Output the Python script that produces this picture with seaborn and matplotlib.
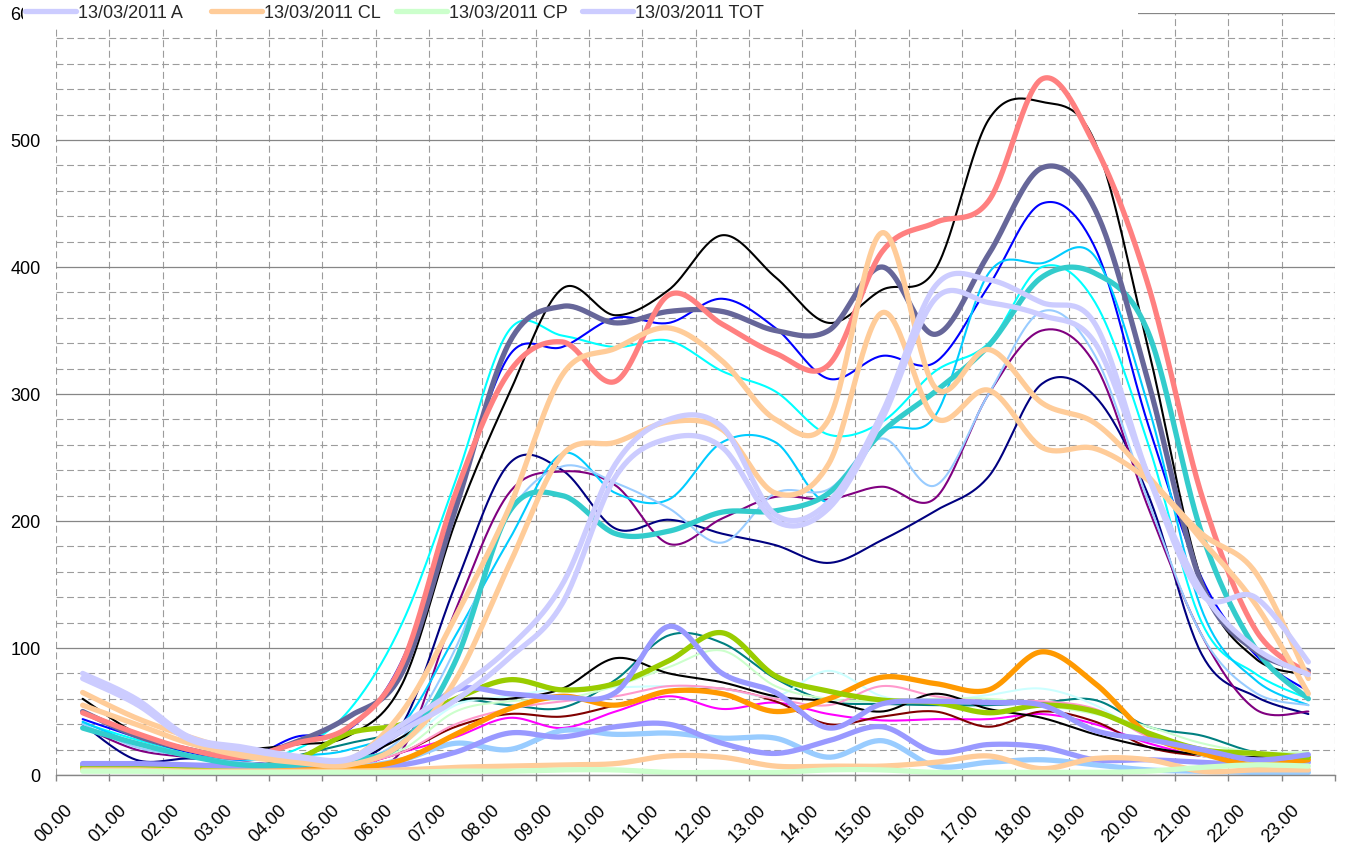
import numpy as np
import matplotlib
matplotlib.use("Agg")
import matplotlib.pyplot as plt
import seaborn as sns
from matplotlib.transforms import ScaledTranslation
from matplotlib.lines import Line2D
from matplotlib.patches import Rectangle

# ---- categories (hour of day) ----
hours = ["00.00", "01.00", "02.00", "03.00", "04.00", "05.00", "06.00", "07.00",
         "08.00", "09.00", "10.00", "11.00", "12.00", "13.00", "14.00", "15.00",
         "16.00", "17.00", "18.00", "19.00", "20.00", "21.00", "22.00", "23.00"]

# ---- hourly counts, thin series ----
black_hi = [60, 33, 19, 20, 24, 31, 72, 200, 300, 383, 362, 382, 425, 392, 356, 382, 398, 516, 530, 498, 335, 153, 92, 79]
navy = [40, 12, 13, 10, 8, 10, 40, 150, 245, 240, 194, 201, 190, 181, 167, 185, 208, 235, 308, 298, 220, 95, 62, 48]
blue = [44, 30, 18, 12, 30, 36, 91, 215, 330, 337, 360, 356, 375, 352, 312, 330, 325, 385, 450, 415, 275, 155, 95, 66]
cyan = [41, 28, 18, 14, 20, 51, 120, 232, 350, 346, 337, 342, 318, 302, 268, 278, 318, 340, 400, 372, 260, 120, 80, 60]
sky_blue = [42, 25, 16, 12, 15, 20, 40, 110, 185, 253, 222, 217, 262, 262, 215, 270, 283, 395, 403, 408, 290, 130, 75, 55]
purple = [38, 20, 14, 10, 7, 8, 20, 130, 222, 239, 228, 182, 202, 219, 217, 227, 218, 300, 350, 323, 210, 110, 52, 50]
pale_blue = [40, 22, 15, 10, 8, 10, 30, 100, 205, 243, 230, 210, 183, 222, 225, 265, 228, 300, 365, 330, 215, 110, 65, 55]
teal = [6, 6, 5, 5, 15, 25, 35, 58, 55, 53, 75, 110, 104, 76, 58, 56, 55, 55, 57, 59, 38, 31, 18, 15]
dark_red = [6, 5, 5, 4, 5, 8, 18, 38, 48, 46, 55, 66, 68, 58, 40, 46, 50, 38, 50, 42, 22, 15, 12, 10]
magenta = [5, 5, 4, 4, 4, 6, 18, 30, 45, 37, 50, 62, 52, 57, 48, 43, 44, 44, 48, 40, 25, 15, 10, 10]
light_turquoise = [6, 6, 5, 5, 6, 10, 25, 55, 62, 68, 69, 70, 68, 62, 82, 62, 58, 63, 68, 55, 30, 15, 10, 10]
light_green = [5, 5, 4, 4, 5, 8, 20, 50, 58, 60, 70, 85, 98, 70, 60, 58, 60, 60, 55, 48, 38, 25, 18, 18]
rose = [5, 5, 4, 4, 5, 8, 18, 40, 52, 58, 62, 70, 68, 60, 55, 70, 62, 58, 58, 52, 30, 18, 12, 10]
black_lo = [8, 7, 6, 5, 8, 12, 30, 58, 60, 68, 92, 80, 73, 62, 58, 50, 64, 52, 45, 32, 22, 16, 14, 13]

# ---- hourly counts, thick series ----
salmon = [49, 33, 20, 14, 25, 38, 88, 222, 317, 341, 310, 378, 355, 332, 323, 412, 435, 452, 548, 495, 385, 220, 115, 80]
slate = [50, 31, 20, 14, 26, 46, 81, 210, 340, 369, 356, 365, 365, 350, 350, 400, 347, 410, 478, 445, 309, 150, 98, 82]
turquoise = [37, 25, 15, 8, 8, 12, 25, 90, 207, 220, 190, 192, 207, 208, 222, 270, 302, 338, 392, 395, 348, 190, 100, 60]
periwinkle_hi = [9, 9, 8, 7, 8, 12, 35, 67, 64, 61, 65, 117, 80, 65, 37, 56, 58, 57, 55, 35, 28, 20, 12, 16]
periwinkle_lo = [8, 8, 6, 5, 5, 5, 8, 18, 33, 30, 38, 40, 25, 17, 27, 38, 18, 24, 22, 12, 12, 10, 8, 10]
yellow_green = [6, 7, 6, 5, 12, 33, 40, 60, 75, 67, 72, 90, 112, 78, 66, 59, 57, 49, 55, 50, 33, 20, 17, 14]
orange = [4, 4, 4, 3, 4, 5, 12, 32, 52, 62, 55, 66, 64, 50, 60, 77, 72, 67, 97, 72, 32, 17, 8, 12]
pale_blue_thick = [8, 7, 6, 5, 5, 6, 12, 25, 20, 35, 32, 33, 29, 29, 14, 27, 7, 10, 12, 8, 4, 3, 2, 2]
tan_hi = [65, 45, 30, 18, 12, 12, 50, 125, 210, 315, 336, 352, 326, 280, 280, 427, 305, 335, 293, 277, 235, 185, 135, 64]
tan_mid = [55, 40, 25, 15, 10, 8, 25, 75, 165, 252, 262, 278, 272, 222, 245, 364, 281, 303, 258, 257, 232, 190, 160, 76]
tan_lo = [4, 4, 3, 3, 3, 3, 4, 6, 7, 8, 9, 15, 14, 7, 7, 7, 10, 15, 5, 13, 12, 3, 4, 4]
green_cp = [3, 3, 2, 2, 2, 2, 2, 3, 3, 4, 4, 2, 2, 2, 4, 4, 2, 2, 2, 2, 3, 6, 8, 7]
lavender_a = [80, 60, 30, 22, 15, 13, 40, 67, 100, 150, 245, 280, 274, 205, 215, 285, 385, 390, 372, 355, 235, 142, 140, 89]
lavender_tot = [76, 56, 28, 20, 14, 12, 35, 59, 92, 135, 235, 265, 258, 200, 210, 280, 375, 372, 362, 340, 235, 145, 100, 79]

legend_labels = ["13/03/2011 A", "13/03/2011 CL", "13/03/2011 CP", "13/03/2011 TOT"]

THIN, THICK = 1.5, 3.8

# drawing order: thin lines underneath, thick lines on top
series = [
    (navy, "#000080", THIN), (magenta, "#FF00FF", THIN), (cyan, "#00FFFF", THIN),
    (purple, "#800080", THIN), (dark_red, "#800000", THIN), (teal, "#008080", THIN),
    (blue, "#0000FF", THIN), (sky_blue, "#00CCFF", THIN), (light_turquoise, "#CCFFFF", THIN),
    (light_green, "#CCFFCC", THIN), (pale_blue, "#99CCFF", THIN), (rose, "#FF99CC", THIN),
    (black_lo, "#000000", THIN), (black_hi, "#000000", THIN),
    (pale_blue_thick, "#99CCFF", THICK), (periwinkle_lo, "#9999FF", THICK),
    (orange, "#FF9900", THICK), (yellow_green, "#99CC00", THICK),
    (periwinkle_hi, "#9999FF", THICK), (turquoise, "#33CCCC", THICK),
    (slate, "#666699", THICK), (salmon, "#FF8080", THICK),
    (tan_lo, "#FFCC99", THICK), (green_cp, "#CCFFCC", THICK),
    (tan_mid, "#FFCC99", THICK), (tan_hi, "#FFCC99", THICK),
    (lavender_tot, "#CCCCFF", THICK), (lavender_a, "#CCCCFF", THICK),
]


def smooth_curve(values, steps=30):
    """Cubic Bezier smoothing through every point (spreadsheet-style smoothed line)."""
    y = np.asarray(values, dtype=float)
    x = np.arange(len(y), dtype=float)
    n = len(y)
    t = np.linspace(0.0, 1.0, steps + 1)[1:]
    xs, ys = [x[0]], [y[0]]
    for i in range(n - 1):
        xa, ya = (x[i - 1], y[i - 1]) if i > 0 else (x[i], y[i])
        xd, yd = (x[i + 2], y[i + 2]) if i + 2 < n else (x[i + 1], y[i + 1])
        c1x, c1y = x[i] + (x[i + 1] - xa) / 6, y[i] + (y[i + 1] - ya) / 6
        c2x, c2y = x[i + 1] - (xd - x[i]) / 6, y[i + 1] - (yd - y[i]) / 6
        b0, b1, b2, b3 = (1 - t) ** 3, 3 * (1 - t) ** 2 * t, 3 * (1 - t) * t ** 2, t ** 3
        xs.extend(b0 * x[i] + b1 * c1x + b2 * c2x + b3 * x[i + 1])
        ys.extend(b0 * y[i] + b1 * c1y + b2 * c2y + b3 * y[i + 1])
    return np.array(xs), np.array(ys)


sns.set_theme(style="white")
plt.rcParams["font.family"] = ["Liberation Sans", "DejaVu Sans"]
plt.rcParams["lines.scale_dashes"] = False

W, H, DPI = 1346, 846, 100
fig = plt.figure(figsize=(W / DPI, H / DPI), dpi=DPI)
ax = fig.add_axes([56 / W, 1 - 775 / H, (1335 - 56) / W, (775 - 13) / H])

for values, color, lw in series:
    sx, sy = smooth_curve(values)
    sns.lineplot(x=sx, y=sy, ax=ax, color=color, linewidth=lw, estimator=None,
                 sort=False, legend=False, solid_capstyle="round", solid_joinstyle="round")

ax.set_xlim(-0.5, 23.5)
ax.set_ylim(0, 600)

solid_col = "#868686"
dash_col = "#9C9C9C"
dash_style = (0, (5.0, 2.6))

# category boundaries: dashed verticals and outward tick marks
ax.set_xticks(np.arange(-0.5, 24, 1.0))
ax.set_xticklabels([])
ax.set_xticks(np.arange(24), minor=True)
ax.set_xticklabels(hours, minor=True, rotation=45, ha="right", va="center",
                   rotation_mode="anchor", fontsize=13, color="#000000")
ax.tick_params(axis="x", which="major", direction="out", length=4.5, width=1,
               color=solid_col, bottom=True)
ax.tick_params(axis="x", which="minor", length=0, pad=23.5)
ax.xaxis.grid(True, which="major", color=dash_col, linestyle=dash_style, linewidth=0.8)

ax.set_yticks(np.arange(0, 601, 100))
ax.set_yticklabels([str(v) for v in range(0, 601, 100)], fontsize=13, color="#000000")
ax.set_yticks(np.arange(0, 601, 20), minor=True)
ax.tick_params(axis="y", which="both", length=0, pad=11)
ax.yaxis.grid(True, which="major", color=solid_col, linestyle="-", linewidth=0.9)
ax.yaxis.grid(True, which="minor", color=dash_col, linestyle=dash_style, linewidth=0.8)
ax.set_axisbelow(True)

shift = ScaledTranslation(-12 / DPI, 0, fig.dpi_scale_trans)
for lab in ax.get_xticklabels(minor=True):
    lab.set_transform(lab.get_transform() + shift)

for side in ("left", "top", "right"):
    ax.spines[side].set_visible(False)
ax.spines["bottom"].set_color(solid_col)
ax.spines["bottom"].set_linewidth(1.0)

# legend strip along the top edge
fig.add_artist(Rectangle((23 / W, 1 - 28 / H), (1138 - 23) / W, 28 / H,
                         transform=fig.transFigure, facecolor="white",
                         edgecolor="none", zorder=3))
legend_colors = ["#CCCCFF", "#FFCC99", "#CCFFCC", "#CCCCFF"]
legend_x = [25, 211, 396, 582]
for lbl, col, px in zip(legend_labels, legend_colors, legend_x):
    handle = Line2D([], [], color=col, linewidth=THICK, solid_capstyle="round")
    lg = fig.legend([handle], [lbl], loc="center left",
                    bbox_to_anchor=(px / W, 1 - 13 / H), frameon=False,
                    fontsize=13, handlelength=2.8, handletextpad=0.15,
                    borderpad=0, borderaxespad=0)
    lg.set_zorder(5)

fig.savefig("out.png", dpi=DPI, facecolor="white")
